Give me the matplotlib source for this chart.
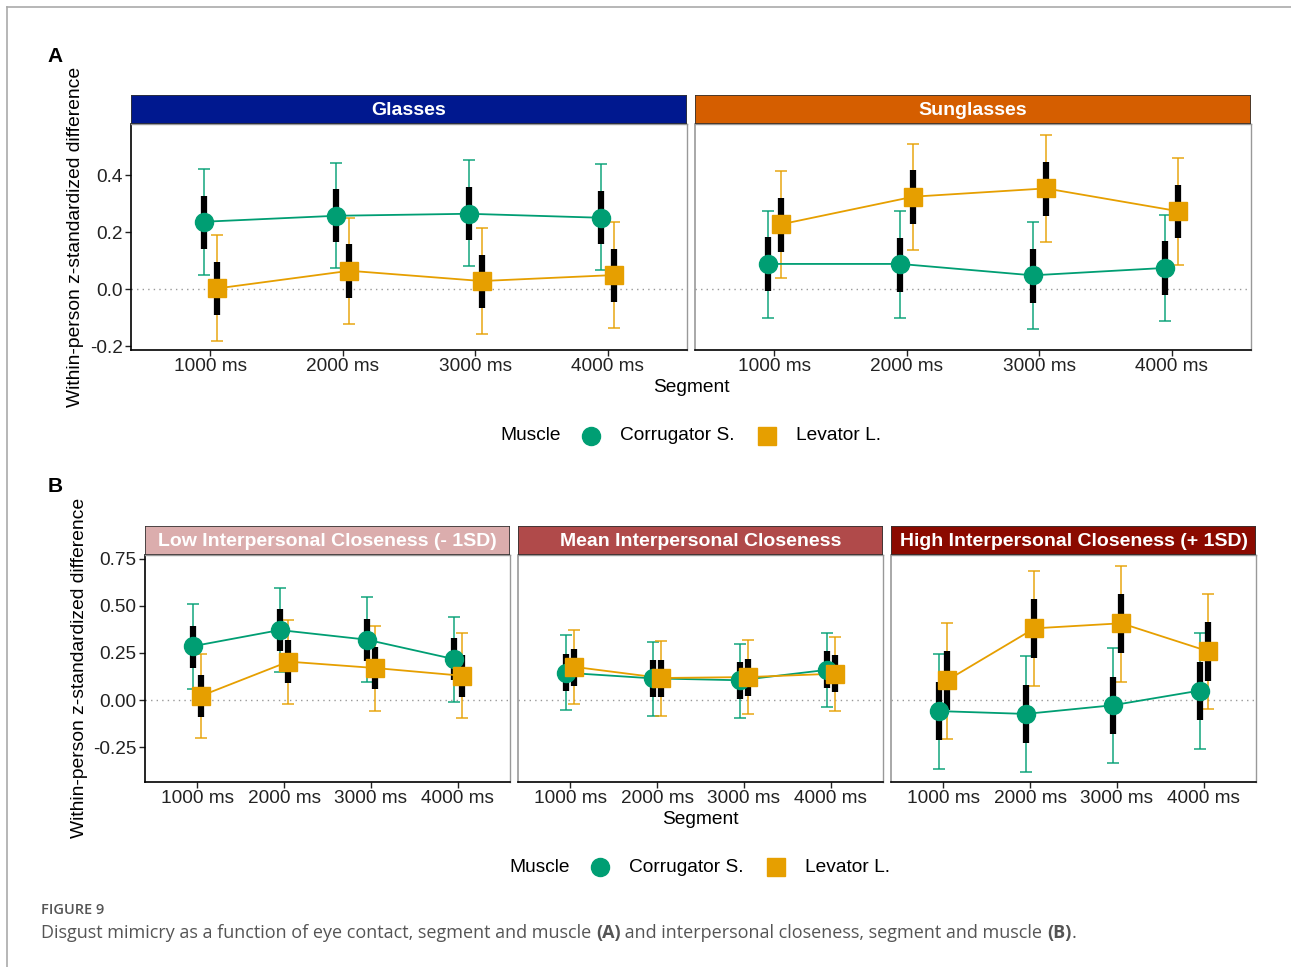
import numpy as np
import matplotlib
matplotlib.use("Agg")
import matplotlib.pyplot as plt
from matplotlib.lines import Line2D
from matplotlib.patches import Rectangle

plt.rcParams['font.family'] = ['Liberation Sans', 'DejaVu Sans']

# --------------------------
# Datos
# --------------------------
segmentos = ['1000 ms', '2000 ms', '3000 ms', '4000 ms']

# (A) Glasses
gl_cor = [0.236, 0.257, 0.264, 0.250]
gl_cor_in = [[0.141, 0.165, 0.173, 0.158], [0.327, 0.351, 0.359, 0.345]]
gl_cor_out = [[0.049, 0.074, 0.082, 0.066], [0.421, 0.443, 0.451, 0.437]]
gl_lev = [0.002, 0.064, 0.028, 0.049]
gl_lev_in = [[-0.090, -0.030, -0.067, -0.046], [0.096, 0.157, 0.120, 0.141]]
gl_lev_out = [[-0.182, -0.122, -0.158, -0.138], [0.188, 0.249, 0.213, 0.234]]

# (A) Sunglasses
sg_cor = [0.088, 0.088, 0.048, 0.074]
sg_cor_in = [[-0.008, -0.009, -0.048, -0.021], [0.181, 0.180, 0.141, 0.167]]
sg_cor_out = [[-0.102, -0.102, -0.141, -0.113], [0.275, 0.275, 0.234, 0.261]]
sg_lev = [0.227, 0.324, 0.353, 0.273]
sg_lev_in = [[0.130, 0.228, 0.257, 0.178], [0.320, 0.418, 0.447, 0.366]]
sg_lev_out = [[0.039, 0.136, 0.165, 0.084], [0.414, 0.510, 0.540, 0.460]]

# (B) Low interpersonal closeness
lo_cor = [0.286, 0.372, 0.321, 0.218]
lo_cor_in = [[0.172, 0.259, 0.207, 0.106], [0.395, 0.484, 0.433, 0.330]]
lo_cor_out = [[0.060, 0.147, 0.097, -0.009], [0.511, 0.597, 0.546, 0.443]]
lo_lev = [0.023, 0.204, 0.170, 0.129]
lo_lev_in = [[-0.090, 0.090, 0.057, 0.016], [0.133, 0.317, 0.282, 0.241]]
lo_lev_out = [[-0.202, -0.021, -0.057, -0.096], [0.246, 0.427, 0.394, 0.355]]

# (B) Mean interpersonal closeness
me_cor = [0.145, 0.115, 0.105, 0.160]
me_cor_in = [[0.048, 0.016, 0.005, 0.062], [0.243, 0.211, 0.200, 0.259]]
me_cor_out = [[-0.051, -0.083, -0.094, -0.035], [0.344, 0.310, 0.300, 0.358]]
me_lev = [0.176, 0.117, 0.122, 0.140]
me_lev_in = [[0.076, 0.016, 0.023, 0.041], [0.273, 0.211, 0.220, 0.237]]
me_lev_out = [[-0.023, -0.083, -0.076, -0.059], [0.372, 0.312, 0.319, 0.337]]

# (B) High interpersonal closeness
hi_cor = [-0.059, -0.074, -0.028, 0.050]
hi_cor_in = [[-0.215, -0.229, -0.183, -0.106], [0.094, 0.080, 0.124, 0.204]]
hi_cor_out = [[-0.367, -0.381, -0.337, -0.259], [0.246, 0.232, 0.278, 0.358]]
hi_lev = [0.106, 0.381, 0.408, 0.259]
hi_lev_in = [[-0.051, 0.225, 0.252, 0.103], [0.259, 0.535, 0.562, 0.413]]
hi_lev_out = [[-0.206, 0.073, 0.097, -0.050], [0.411, 0.688, 0.714, 0.565]]

VERDE = '#009E73'
NARANJA = '#E69F00'

W, H = 1291, 967
fig = plt.figure(figsize=(W / 100, H / 100), dpi=100)


def caja(l, t, r, b):
    return [l / W, 1 - b / H, (r - l) / W, (b - t) / H]


def panel(l, t, r, b, titulo, color_tira, datos, ylim, yticks, ylabels):
    ax = fig.add_axes(caja(l, t, r, b))
    x = np.arange(len(segmentos))
    for est, inner, outer, color, marcador, dx in datos:
        est = np.array(est)
        inner = np.array(inner)
        outer = np.array(outer)
        xs = x + dx
        ax.errorbar(xs, est, yerr=[est - outer[0], outer[1] - est], fmt='none',
                    ecolor=color, elinewidth=1.2, capsize=4.5, capthick=1.2, alpha=0.85, zorder=2)
        ax.vlines(xs, inner[0], inner[1], color='black', lw=4.5, zorder=3)
        ax.plot(xs, est, color=color, lw=1.3, zorder=4)
        ax.plot(xs, est, ls='none', marker=marcador, ms=13, color=color, mec=color, zorder=5)
    ax.axhline(0, color='#999999', ls=(0, (1, 3)), lw=1, zorder=1)
    ax.set_xlim(-0.6, 3.6)
    ax.set_ylim(*ylim)
    ax.set_xticks(x)
    ax.set_xticklabels(segmentos)
    ax.set_yticks(yticks)
    ax.tick_params(labelsize=13.7, colors='#222222', length=4, width=1, pad=2)
    if ylabels is not None:
        ax.set_yticklabels(ylabels)
    else:
        ax.set_yticklabels([])
        ax.tick_params(axis='y', length=0)
    for lado in ['top', 'right']:
        ax.spines[lado].set_color('#999999')
        ax.spines[lado].set_linewidth(1)
    for lado in ['left', 'bottom']:
        ax.spines[lado].set_color('black')
        ax.spines[lado].set_linewidth(1.2)
    if ylabels is None:
        ax.spines['left'].set_color('#999999')

    # Tira del título del panel
    tira = fig.add_axes(caja(l, t - 29, r, t))
    tira.add_patch(Rectangle((0, 0), 1, 1, transform=tira.transAxes, facecolor=color_tira,
                             edgecolor='#333333', lw=1.2))
    tira.text(0.5, 0.47, titulo, ha='center', va='center', color='white',
              fontsize=14, fontweight='bold', transform=tira.transAxes)
    tira.set_axis_off()
    return ax


def leyenda(y, x_titulo, x_circ, x_cor, x_cuad, x_lev):
    fig.text(x_titulo / W, 1 - y / H, 'Muscle', fontsize=13.8, va='center', ha='left')
    fig.add_artist(Line2D([x_circ / W], [1 - y / H], marker='o', ms=13, color=VERDE,
                          transform=fig.transFigure))
    fig.text(x_cor / W, 1 - y / H, 'Corrugator S.', fontsize=13.8, va='center', ha='left')
    fig.add_artist(Line2D([x_cuad / W], [1 - y / H], marker='s', ms=13, color=NARANJA,
                          transform=fig.transFigure))
    fig.text(x_lev / W, 1 - y / H, 'Levator L.', fontsize=13.8, va='center', ha='left')


# --------------------------
# Fila A
# --------------------------
dA = 0.05
ylimA = (-0.214, 0.579)
ticksA = [-0.2, 0.0, 0.2, 0.4]
labA = ['-0.2', '0.0', '0.2', '0.4']
panel(131, 124, 687, 350, 'Glasses', '#00188F',
      [(gl_cor, gl_cor_in, gl_cor_out, VERDE, 'o', -dA),
       (gl_lev, gl_lev_in, gl_lev_out, NARANJA, 's', dA)], ylimA, ticksA, labA)
panel(695, 124, 1251, 350, 'Sunglasses', '#D55E00',
      [(sg_cor, sg_cor_in, sg_cor_out, VERDE, 'o', -dA),
       (sg_lev, sg_lev_in, sg_lev_out, NARANJA, 's', dA)], ylimA, ticksA, None)

fig.text(55 / W, 1 - 57 / H, 'A', fontsize=15, fontweight='bold', ha='center', va='center')
fig.text(76 / W, 1 - 237 / H, 'Within-person z-standardized difference', rotation=90,
         fontsize=13.9, ha='center', va='center')
fig.text(691 / W, 1 - 388 / H, 'Segment', fontsize=13.8, ha='center', va='center')
leyenda(436, 500, 591, 620, 767, 796)

# --------------------------
# Fila B
# --------------------------
ylimB = (-0.436, 0.771)
ticksB = [-0.25, 0.0, 0.25, 0.5, 0.75]
labB = ['-0.25', '0.00', '0.25', '0.50', '0.75']
panel(145, 555, 510, 782, 'Low Interpersonal Closeness (- 1SD)', '#DBADAD',
      [(lo_cor, lo_cor_in, lo_cor_out, VERDE, 'o', -dA),
       (lo_lev, lo_lev_in, lo_lev_out, NARANJA, 's', dA)], ylimB, ticksB, labB)
panel(518, 555, 883, 782, 'Mean Interpersonal Closeness', '#B04A4A',
      [(me_cor, me_cor_in, me_cor_out, VERDE, 'o', -dA),
       (me_lev, me_lev_in, me_lev_out, NARANJA, 's', dA)], ylimB, ticksB, None)
panel(891, 555, 1256, 782, 'High Interpersonal Closeness (+ 1SD)', '#8B0A00',
      [(hi_cor, hi_cor_in, hi_cor_out, VERDE, 'o', -dA),
       (hi_lev, hi_lev_in, hi_lev_out, NARANJA, 's', dA)], ylimB, ticksB, None)

fig.text(55 / W, 1 - 487 / H, 'B', fontsize=15, fontweight='bold', ha='center', va='center')
fig.text(80 / W, 1 - 668 / H, 'Within-person z-standardized difference', rotation=90,
         fontsize=13.9, ha='center', va='center')
fig.text(700 / W, 1 - 819 / H, 'Segment', fontsize=13.8, ha='center', va='center')
leyenda(867, 509, 600, 629, 776, 805)

# --------------------------
# Pie de figura
# --------------------------
fig.add_artist(Line2D([7 / W, 1], [1 - 7 / H, 1 - 7 / H], color='#aaaaaa', lw=1.2,
                      transform=fig.transFigure))
fig.add_artist(Line2D([7 / W, 7 / W], [0, 1 - 7 / H], color='#aaaaaa', lw=1.2,
                      transform=fig.transFigure))

fig.text(41 / W, 1 - 910 / H, 'FIGURE 9', fontsize=10.5, color='#555555',
         family=['Open Sans', 'DejaVu Sans'], fontweight='semibold', va='center')

partes = [('Disgust mimicry as a function of eye contact, segment and muscle ', 'normal'),
          ('(A)', 'bold'),
          (' and interpersonal closeness, segment and muscle ', 'normal'),
          ('(B)', 'bold'),
          ('.', 'normal')]
renderer = fig.canvas.get_renderer()
x_px = 41
for texto, peso in partes:
    t = fig.text(x_px / W, 1 - 933 / H, texto, fontsize=13, color='#555555',
                 family=['Open Sans', 'DejaVu Sans'], fontweight=peso, va='center')
    x_px += t.get_window_extent(renderer).width

fig.savefig('out.png', dpi=100)
